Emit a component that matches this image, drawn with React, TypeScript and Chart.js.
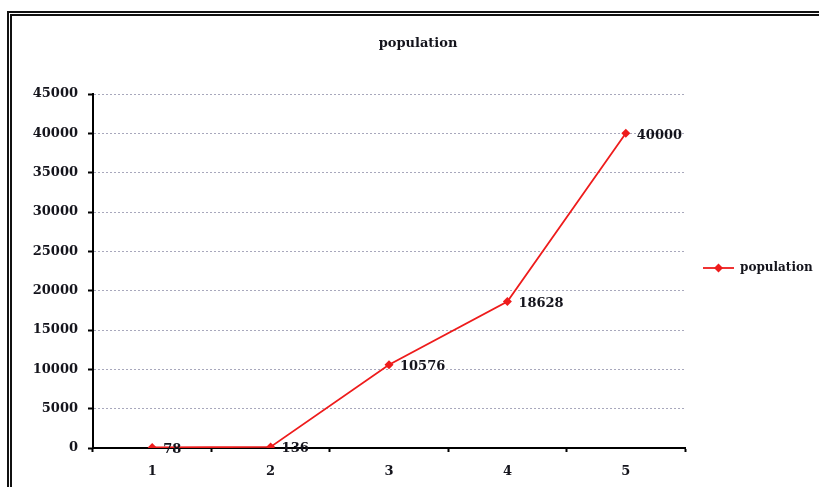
import React, { useEffect, useRef } from "react";
import { Chart, registerables } from "chart.js";

Chart.register(...registerables);

const categories = ["1", "2", "3", "4", "5"];
const populationValues = [78, 136, 10576, 18628, 40000];
const seriesName = "population";
const chartTitle = "population";
const yMin = 0;
const yMax = 45000;
const yStep = 5000;

const FONT = "'DejaVu Serif', 'Liberation Serif', serif";
const INK = "#14141c";
const RED = "#ee1c1c";

// Title, value labels and the legend entry, drawn on the canvas.
const decorPlugin = {
  id: "decor",
  afterDatasetsDraw(chart: any) {
    const { ctx } = chart;
    ctx.save();
    // title
    ctx.fillStyle = INK;
    ctx.font = `bold 13px ${FONT}`;
    ctx.textAlign = "center";
    ctx.textBaseline = "middle";
    ctx.fillText(chartTitle, 418, 44);

    // value labels beside each point
    const meta = chart.getDatasetMeta(0);
    ctx.textAlign = "left";
    ctx.font = `bold 13px ${FONT}`;
    meta.data.forEach((pt: any, i: number) => {
      const v = chart.data.datasets[0].data[i];
      ctx.fillText(String(v), pt.x + 11, pt.y + 2);
    });

    // legend entry
    const ly = 268;
    ctx.strokeStyle = RED;
    ctx.lineWidth = 1.8;
    ctx.beginPath();
    ctx.moveTo(703, ly);
    ctx.lineTo(734, ly);
    ctx.stroke();
    ctx.fillStyle = RED;
    ctx.beginPath();
    ctx.moveTo(718.5, ly - 4.5);
    ctx.lineTo(723, ly);
    ctx.lineTo(718.5, ly + 4.5);
    ctx.lineTo(714, ly);
    ctx.closePath();
    ctx.fill();
    ctx.fillStyle = INK;
    ctx.font = `bold 12px ${FONT}`;
    ctx.textBaseline = "middle";
    ctx.fillText(seriesName, 740, ly);
    ctx.restore();
  },
};

export default function App() {
  const canvasRef = useRef<HTMLCanvasElement | null>(null);

  useEffect(() => {
    if (!canvasRef.current) return;
    const chart = new Chart(canvasRef.current, {
      type: "line",
      data: {
        labels: categories,
        datasets: [
          {
            label: seriesName,
            data: populationValues,
            borderColor: RED,
            backgroundColor: RED,
            borderWidth: 1.8,
            pointStyle: "rectRot",
            pointRadius: 4.5,
            pointBorderWidth: 0,
            tension: 0,
          },
        ],
      },
      options: {
        responsive: false,
        animation: false,
        events: [],
        layout: { padding: { left: 13, right: 134, top: 94, bottom: 9 } },
        plugins: {
          legend: { display: false },
          title: { display: false },
          tooltip: { enabled: false },
        },
        scales: {
          x: {
            offset: true,
            afterFit: (s: any) => {
              s.height = 30;
            },
            grid: {
              offset: true,
              drawOnChartArea: false,
              drawTicks: true,
              tickLength: 4,
              tickColor: "#000",
              tickWidth: 2,
            },
            border: { display: true, color: "#000", width: 2 },
            ticks: {
              color: INK,
              padding: 12,
              font: { family: FONT, size: 13, weight: "bold" },
            },
          },
          y: {
            min: yMin,
            max: yMax,
            afterFit: (s: any) => {
              s.width = 80;
            },
            grid: {
              color: "#a8a8bc",
              lineWidth: 1,
              drawTicks: true,
              tickLength: 5,
              tickColor: "#000",
              tickWidth: 2,
              tickBorderDash: [],
            },
            border: { display: true, color: "#000", width: 2, dash: [2, 2] },
            ticks: {
              stepSize: yStep,
              color: INK,
              padding: 10,
              font: { family: FONT, size: 13, weight: "bold" },
              callback: (v: any) => String(v),
            },
          },
        },
      },
      plugins: [decorPlugin],
    });
    return () => chart.destroy();
  }, []);

  return (
    <div
      style={{
        position: "fixed",
        left: 0,
        top: 0,
        width: 819,
        height: 487,
        background: "#fff",
        overflow: "hidden",
      }}
    >
      <canvas
        ref={canvasRef}
        width={819}
        height={487}
        style={{ position: "absolute", left: 0, top: 0, width: 819, height: 487 }}
      />
      <div
        style={{
          position: "absolute",
          left: 7,
          top: 11,
          width: 830,
          height: 500,
          borderTop: "5px double #111",
          borderLeft: "5px double #111",
          boxSizing: "border-box",
          pointerEvents: "none",
        }}
      />
    </div>
  );
}
